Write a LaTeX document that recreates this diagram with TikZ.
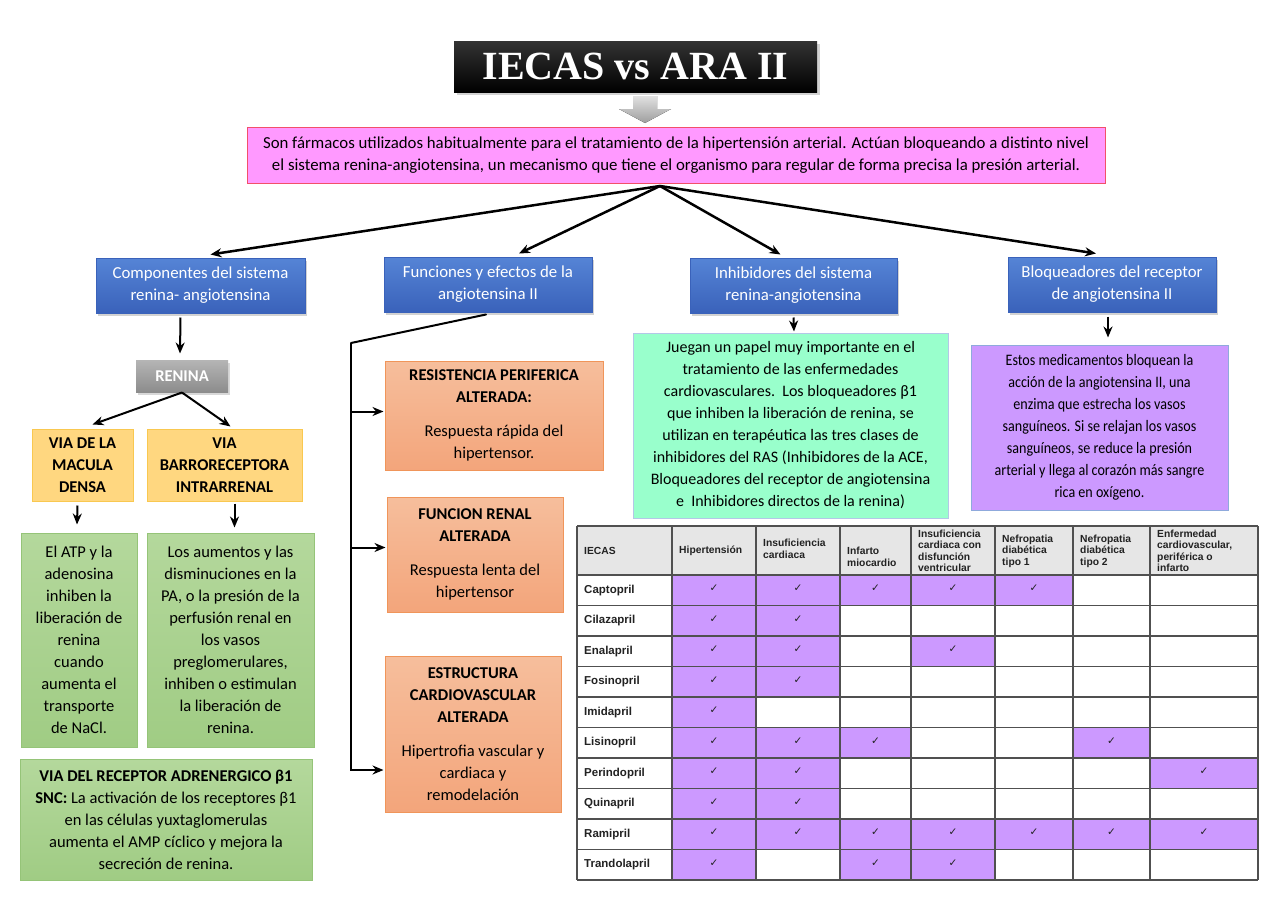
\documentclass[tikz,border=0pt]{standalone}
\usepackage{fontspec}
\setmainfont{Carlito}
\newfontfamily\narrowfont{Carlito}[FakeStretch=0.88]
\newfontfamily\ttlfont{Liberation Serif}
\newfontfamily\tabfont{Liberation Sans}
\newfontfamily\symfont{DejaVu Sans}
\usepackage{tikz}
\usetikzlibrary{arrows.meta,calc,shadows}
\definecolor{cpink}{HTML}{FF99FF}
\definecolor{cpinkedge}{HTML}{F2506A}
\definecolor{cbluetop}{HTML}{5584D6}
\definecolor{cbluebot}{HTML}{3A62BA}
\definecolor{crentop}{HTML}{B5B5B5}
\definecolor{crenbot}{HTML}{8C8C8C}
\definecolor{cyel}{HTML}{FFD780}
\definecolor{cyeledge}{HTML}{F9C850}
\definecolor{cgrntop}{HTML}{B4D89C}
\definecolor{cgrnbot}{HTML}{A0CC84}
\definecolor{cgrnedge}{HTML}{95C478}
\definecolor{corgtop}{HTML}{F6BE9C}
\definecolor{corgbot}{HTML}{F3A57B}
\definecolor{corgedge}{HTML}{F0955A}
\definecolor{cmint}{HTML}{99FFCC}
\definecolor{cmintedge}{HTML}{B4C7E7}
\definecolor{cpurp}{HTML}{CC99FF}
\definecolor{cpurpedge}{HTML}{8FAADC}
\definecolor{chead}{HTML}{E6E6E6}
\definecolor{cgrid}{HTML}{505050}
\definecolor{cink}{HTML}{222222}
\tikzset{
  sz/.style 2 args={minimum width=#1pt,minimum height=#2pt},
  anybx/.style={draw,line width=1pt,align=center,inner sep=0pt,font=\fontsize{16.5}{22}\selectfont},
  ttlbx/.style={anybx,draw=none,top color=black!80,bottom color=black,text=white,
    font=\ttlfont\bfseries\fontsize{40}{44}\selectfont,
    drop shadow={shadow xshift=3pt,shadow yshift=-3pt,opacity=.35}},
  pinkbx/.style={anybx,fill=cpink,draw=cpinkedge,font=\fontsize{16.8}{22}\selectfont},
  bluebx/.style={anybx,draw=cbluebot,top color=cbluetop,bottom color=cbluebot,text=white,
    font=\fontsize{16.8}{22}\selectfont,
    drop shadow={shadow xshift=2pt,shadow yshift=-3pt,opacity=.35}},
  renbx/.style={anybx,draw=none,top color=crentop,bottom color=crenbot,text=white,
    font=\bfseries\fontsize{16.5}{18}\selectfont,
    drop shadow={shadow xshift=2pt,shadow yshift=-3pt,opacity=.3}},
  yelbx/.style={anybx,fill=cyel,draw=cyeledge,font=\bfseries\fontsize{16.5}{22}\selectfont},
  grnbx/.style={anybx,draw=cgrnedge,top color=cgrntop,bottom color=cgrnbot},
  orgbx/.style={anybx,draw=corgedge,top color=corgtop,bottom color=corgbot},
  mintbx/.style={anybx,fill=cmint,draw=cmintedge,font=\fontsize{16}{22}\selectfont},
  purbx/.style={anybx,fill=cpurp,draw=cpurpedge,font=\narrowfont\fontsize{16}{22}\selectfont},
  arr/.style={-{Stealth[length=11pt,width=9pt]},line width=2pt},
  fanarr/.style={arr,line width=2.5pt},
  tabgrid/.style={cgrid,line width=1.2pt},
  rowlab/.style={anchor=west,inner sep=0pt,text=cink,font=\tabfont\bfseries\fontsize{11.5}{13}\selectfont},
  headlab/.style={anchor=west,align=left,inner sep=0pt,text=cink,font=\tabfont\bfseries\fontsize{10.3}{11.5}\selectfont},
  tick/.style={inner sep=0pt,text=cink,font=\symfont\fontsize{10.5}{10.5}\selectfont}
}

\begin{document}
\begin{tikzpicture}[x=1pt,y=-1pt]
\useasboundingbox[fill=white] (0,0) rectangle (1280,905);

% heading
\node[ttlbx,sz={363}{51}] (ttl) at (635.5,66.5) {IECAS vs ARA II};
\fill[top color=black!12,bottom color=black!38] (633,96) -- (657,96) -- (657,109) -- (671,109)
  -- (645,123) -- (619,109) -- (633,109) -- cycle;
\node[pinkbx,sz={858}{56}] (intro) at (676,155)
  {Son fármacos utilizados habitualmente para el tratamiento de la hipertensión arterial. Actúan bloqueando a distinto nivel\\
   el sistema renina-angiotensina, un mecanismo que tiene el organismo para regular de forma precisa la presión arterial.};
\coordinate (hub) at (660,186);

% four branches
\node[bluebx,sz={209}{55}] (comp) at (200.5,285.5) {Componentes del sistema\\renina- angiotensina};
\node[bluebx,sz={208}{55}] (func) at (488,284.5) {Funciones y efectos de la\\angiotensina II};
\node[bluebx,sz={207}{55}] (inhib) at (793.5,285.5) {Inhibidores del sistema\\renina-angiotensina};
\node[bluebx,sz={208}{55}] (bloq) at (1112,284.5) {Bloqueadores del receptor\\de angiotensina II};
\foreach \n/\dx in {comp/10,func/31,inhib/-13,bloq/-16}
  \draw[fanarr] (hub) -- ($(\n.north)+(\dx,-3)$);

% renina
\node[renbx,sz={92}{32}] (ren) at (182,376) {RENINA};
\draw[arr] ($(comp.south)+(-20,4)$) -- ($(ren.north)+(-2,-6)$);
\node[yelbx,sz={101}{72}] (mac) at (82.5,465) {VIA DE LA\\MACULA\\DENSA};
\node[yelbx,sz={155}{72}] (baro) at (224.5,465) {VIA\\BARRORECEPTORA\\INTRARRENAL};
\draw[arr] (ren.south) -- ($(mac.north)+(10,-4)$);
\draw[arr] (ren.south) -- ($(baro.north)+(6,-2)$);
\node[grnbx,sz={116}{214}] (atp) at (79,640)
  {El ATP y la\\adenosina\\inhiben la\\liberación de\\renina\\cuando\\aumenta el\\transporte\\de NaCl.};
\node[grnbx,sz={167}{214}] (pa) at (230.5,640)
  {Los aumentos y las\\disminuciones en la\\PA, o la presión de la\\perfusión renal en\\los vasos\\preglomerulares,\\inhiben o estimulan\\la liberación de\\renina.};
\draw[arr] ($(mac.south)+(-5,4)$) -- ($(atp.north)+(-2,-8)$);
\draw[arr] ($(baro.south)+(10,2)$) -- ($(pa.north)+(4,-5)$);
\node[grnbx,sz={292}{121}] (beta) at (166,819.5)
  {\textbf{VIA DEL RECEPTOR ADRENERGICO β1}\\\textbf{SNC:} La activación de los receptores β1\\
   en las células yuxtaglomerulas\\aumenta el AMP cíclico y mejora la\\secreción de renina.};

% efectos
\node[orgbx,sz={218}{109}] (resis) at (494,415.5)
  {\textbf{RESISTENCIA PERIFERICA}\\\textbf{ALTERADA:}\\[12pt]Respuesta rápida del\\hipertensor.};
\node[orgbx,sz={176}{115}] (renal) at (475,554.5)
  {\textbf{FUNCION RENAL}\\\textbf{ALTERADA}\\[12pt]Respuesta lenta del\\hipertensor};
\node[orgbx,sz={176}{156}] (estr) at (473,734)
  {\textbf{ESTRUCTURA}\\\textbf{CARDIOVASCULAR}\\\textbf{ALTERADA}\\[12pt]Hipertrofia vascular y\\cardiaca y\\remodelación};
\coordinate (elbow) at (351,343);
\coordinate (in1) at ($(resis.west)+(-1,-4)$);
\coordinate (in2) at ($(renal.west)+(-1,-7)$);
\coordinate (in3) at ($(estr.west)+(-1,36)$);
\draw[line width=2pt,line cap=round] ($(func.south)+(-2,2)$) -- (elbow);
\draw[arr] (elbow) |- (in3);
\draw[arr] (elbow |- in1) -- (in1);
\draw[arr] (elbow |- in2) -- (in2);

% inhibidores y bloqueadores
\node[mintbx,sz={315}{185}] (jueg) at (790.5,425.5)
  {Juegan un papel muy importante en el\\tratamiento de las enfermedades\\cardiovasculares.\ \ Los bloqueadores β1\\
   que inhiben la liberación de renina, se\\utilizan en terapéutica las tres clases de\\inhibidores del RAS (Inhibidores de la ACE,\\
   Bloqueadores del receptor de angiotensina\\e\ \ Inhibidores directos de la renina)};
\draw[arr] ($(inhib.south)+(0,4)$) -- ($(jueg.north)+(3.5,-1)$);
\node[purbx,sz={257}{165}] (estos) at (1099.5,427.5)
  {Estos medicamentos bloquean la\\acción de la angiotensina II, una\\enzima que estrecha los vasos\\
   sanguíneos. Si se relajan los vasos\\sanguíneos, se reduce la presión\\arterial y llega al corazón más sangre\\rica en oxígeno.};
\draw[arr] ($(bloq.south)+(-4,4)$) -- ($(estos.north)+(8.5,-7)$);

% tabla IECAS
\def\colx{{577,672,756,840,911,995,1073,1150,1258}}
\fill[chead] (577,526) rectangle (1258,575);
\foreach \r/\drug/\hits in {1/Captopril/{1,2,3,4,5},2/Cilazapril/{1,2},3/Enalapril/{1,2,4},
    4/Fosinopril/{1,2},5/Imidapril/{1},6/Lisinopril/{1,2,3,6},7/Perindopril/{1,2,7},
    8/Quinapril/{1,2},9/Ramipril/{1,2,3,4,5,6,7},10/Trandolapril/{1,3,4}}{
  \pgfmathsetmacro\ya{575+(\r-1)*30.5}
  \pgfmathsetmacro\yb{\ya+30.5}
  \node[rowlab] (drug\r) at (584,{(\ya+\yb)/2}) {\drug};
  \foreach \c in \hits {
    \pgfmathsetmacro\xa{\colx[\c]}
    \pgfmathsetmacro\xb{\colx[\c+1]}
    \fill[cpurp] (\xa,\ya) rectangle (\xb,\yb);
    \node[tick] (tick\r-\c) at ({(\xa+\xb)/2},{(\ya+\yb)/2-2}) {✓};
  }
}
\foreach \c/\y/\txt in {0/551/IECAS,1/551/Hipertensión,2/549/{Insuficiencia\\cardiaca},
    3/557/{Infarto\\miocardio},4/551/{Insuficiencia\\cardiaca con\\disfunción\\ventricular},
    5/551/{Nefropatia\\diabética\\tipo 1},6/551/{Nefropatia\\diabética\\tipo 2},
    7/551/{Enfermedad\\cardiovascular,\\periférica o\\infarto}}{
  \pgfmathsetmacro\xx{\colx[\c]+7}
  \node[headlab] (head\c) at (\xx,\y) {\txt};
}
\foreach \c in {0,...,8}{
  \pgfmathsetmacro\xx{\colx[\c]}
  \draw[tabgrid] (\xx,526) -- (\xx,880);
}
\draw[tabgrid] (577,526) -- (1258,526);
\foreach \r in {0,...,10}{
  \pgfmathsetmacro\yy{575+\r*30.5}
  \draw[tabgrid] (577,\yy) -- (1258,\yy);
}
\end{tikzpicture}
\end{document}
